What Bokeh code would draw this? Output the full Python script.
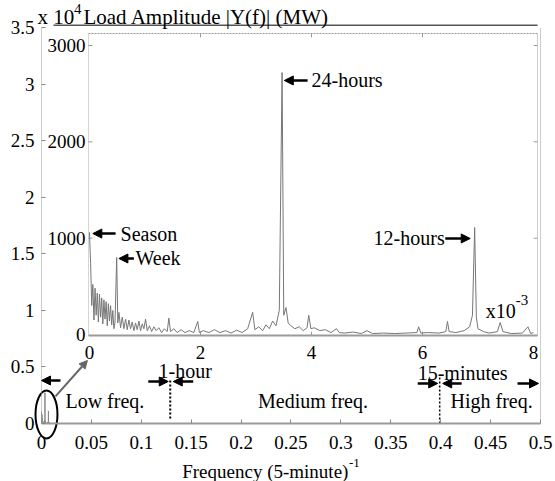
from bokeh.plotting import figure
from bokeh.models import Range1d, Label, Arrow, NormalHead, FixedTicker
from bokeh.embed import file_html
from bokeh.resources import INLINE
from bokeh.core.properties import value

# ---------------- data ----------------
# inset spectrum: frequency in 10^-3 (5-minute)^-1, amplitude in MW
inset_freq = [0.00, 0.02, 0.04, 0.06, 0.08, 0.10, 0.12, 0.14, 0.16, 0.18, 0.20, 0.22, 0.24, 0.26,
              0.28, 0.30, 0.32, 0.34, 0.36, 0.38, 0.40, 0.42, 0.44, 0.46, 0.49, 0.51, 0.53, 0.56,
              0.59, 0.62, 0.65, 0.68, 0.71, 0.74, 0.77, 0.80, 0.83, 0.86, 0.89, 0.92, 0.95, 0.98,
              1.01, 1.04, 1.08, 1.12, 1.16, 1.20, 1.25, 1.30, 1.35, 1.40, 1.43, 1.46, 1.52, 1.58,
              1.65, 1.72, 1.80, 1.88, 1.95, 1.98, 2.05, 2.15, 2.25, 2.35, 2.45, 2.55, 2.65, 2.75,
              2.85, 2.94, 2.98, 3.05, 3.12, 3.18, 3.24, 3.30, 3.36, 3.42, 3.47, 3.50, 3.54, 3.58,
              3.63, 3.70, 3.78, 3.85, 3.92, 3.95, 3.99, 4.05, 4.15, 4.25, 4.35, 4.45, 4.50, 4.60,
              4.75, 4.90, 5.00, 5.10, 5.30, 5.50, 5.70, 5.90, 5.93, 5.97, 6.10, 6.30, 6.42, 6.45,
              6.48, 6.60, 6.75, 6.85, 6.90, 6.94, 6.97, 7.00, 7.10, 7.20, 7.35, 7.40, 7.45, 7.60,
              7.80, 7.90, 7.95, 8.00]
inset_amp = [1060, 740, 300, 520, 150, 480, 200, 430, 130, 420, 180, 380, 110, 360,
             160, 340, 90, 320, 140, 300, 100, 250, 60, 130, 800, 120, 230, 70,
             180, 60, 160, 50, 150, 60, 130, 40, 120, 50, 140, 40, 110, 60,
             160, 40, 90, 30, 80, 40, 70, 20, 60, 30, 170, 30, 60, 20,
             50, 20, 40, 20, 135, 20, 40, 20, 50, 20, 40, 15, 45, 20,
             60, 230, 50, 80, 40, 100, 60, 140, 90, 250, 2720, 200, 280, 120,
             90, 60, 80, 40, 70, 200, 60, 70, 40, 50, 20, 60, 20, 15,
             25, 10, 40, 10, 15, 10, 15, 20, 80, 15, 20, 15, 30, 135,
             30, 20, 40, 80, 200, 1110, 180, 60, 30, 15, 30, 125, 30, 10,
             15, 80, 10, 20]

outer_xticks = [0.0, 0.05, 0.1, 0.15, 0.2, 0.25, 0.3, 0.35, 0.4, 0.45, 0.5]
outer_xlabels = ["0", "0.05", "0.1", "0.15", "0.2", "0.25", "0.3", "0.35", "0.4", "0.45", "0.5"]
outer_yticks = [0.0, 0.5, 1.0, 1.5, 2.0, 2.5, 3.0, 3.5]
outer_ylabels = ["0", "0.5", "1", "1.5", "2", "2.5", "3", "3.5"]
inset_xticks = [0, 2, 4, 6, 8]
inset_xlabels = ["0", "2", "4", "6", "8"]
inset_yticks = [0, 1000, 2000, 3000]
inset_ylabels = ["0", "1000", "2000", "3000"]

FONT = "Liberation Serif, Times New Roman, serif"

# frame covers the whole canvas; outer axes sit at fixed data locations
p = figure(width=555, height=481, output_backend="svg", toolbar_location=None,
           x_range=Range1d(-0.04108, 0.51503), y_range=Range1d(-0.51264, 3.73873),
           min_border=0)
p.title.visible = False
p.grid.visible = False
p.background_fill_color = "white"
p.border_fill_color = "white"
p.outline_line_color = None

p.extra_x_ranges = {"ix": Range1d(-1.6036, 8.3964)}
p.extra_y_ranges = {"iy": Range1d(-1526.0, 3467.3)}

# outer axes
p.xaxis.ticker = FixedTicker(ticks=outer_xticks)
p.xaxis.major_label_overrides = {t: s for t, s in zip(outer_xticks, outer_xlabels)}
p.yaxis.ticker = FixedTicker(ticks=outer_yticks)
p.yaxis.major_label_overrides = {t: s for t, s in zip(outer_yticks, outer_ylabels)}
p.xaxis.fixed_location = 0
p.yaxis.fixed_location = 0
p.xaxis.bounds = (0, 0.5)
p.yaxis.bounds = (0, 3.5)
for ax in (p.xaxis[0], p.yaxis[0]):
    ax.major_label_text_font = FONT
    ax.major_label_text_font_size = "19px"
    ax.major_label_text_color = "black"
    ax.major_tick_out = 0
    ax.major_tick_in = 4
    ax.major_tick_line_color = "#888888"
    ax.minor_tick_line_color = None
p.xaxis.axis_line_color = "#9a9a9a"
p.xaxis.axis_line_width = 2
p.xaxis.major_label_standoff = 13
p.yaxis.axis_line_color = "#999999"
p.yaxis.axis_line_dash = "1 1"
p.yaxis.major_label_standoff = 7

# top and right border of the outer axes
p.line([0.012, 0.497], [3.52, 3.52], line_color="#555555", line_width=1.5)
p.line([0.5, 0.5], [0.0, 3.5], line_color="#999999", line_dash="1 1", line_width=1)

# outer spectrum (same data, in (5-minute)^-1 and 10^4 MW)
p.line([f * 1e-3 for f in inset_freq], [a / 1e4 for a in inset_amp],
       line_color="#888888", line_width=1)

# ---------------- inset ----------------
IX0, IX1, IY0, IY1 = -0.018, 8.072, -10, 3125
p.line([IX0, IX0], [IY0, IY1], x_range_name="ix", y_range_name="iy",
       line_color="#aaaaaa", line_dash="1 1", line_width=1)
p.line([IX1, IX1], [IY0, IY1], x_range_name="ix", y_range_name="iy",
       line_color="#999999", line_dash="1 1", line_width=1)
p.line([IX0, IX1], [IY1, IY1], x_range_name="ix", y_range_name="iy",
       line_color="#999999", line_dash="2 1", line_width=1)
p.line([IX0, IX1], [IY0, IY0], x_range_name="ix", y_range_name="iy",
       line_color="#9a9a9a", line_width=2)
# inset tick marks
p.segment(x0=inset_xticks[1:4], y0=IY0, x1=inset_xticks[1:4], y1=IY0 + 40,
          x_range_name="ix", y_range_name="iy", line_color="#999999")
p.segment(x0=inset_xticks[1:4], y0=IY1, x1=inset_xticks[1:4], y1=IY1 - 40,
          x_range_name="ix", y_range_name="iy", line_color="#999999")
p.segment(x0=IX0, y0=inset_yticks[1:], x1=IX0 + 0.07, y1=inset_yticks[1:],
          x_range_name="ix", y_range_name="iy", line_color="#999999")
p.segment(x0=IX1, y0=inset_yticks[1:], x1=IX1 - 0.07, y1=inset_yticks[1:],
          x_range_name="ix", y_range_name="iy", line_color="#999999")

p.line(inset_freq, inset_amp, x_range_name="ix", y_range_name="iy",
       line_color="#777777", line_width=1)

p.text(x=inset_xticks, y=-187, text=inset_xlabels, x_range_name="ix", y_range_name="iy",
       text_font=value(FONT), text_font_size=value("19px"), text_align="center",
       text_baseline="middle", text_color="black")
p.text(x=-0.07, y=inset_yticks, text=inset_ylabels, x_range_name="ix", y_range_name="iy",
       text_font=value(FONT), text_font_size=value("19px"), text_align="right",
       text_baseline="middle", text_color="black")


def lab(x, y, t, size="20px", align="left", baseline="middle", rng=None):
    kw = {}
    if rng == "inset":
        kw = dict(x_range_name="ix", y_range_name="iy")
    p.add_layout(Label(x=x, y=y, text=t, text_font=FONT, text_font_size=size,
                       text_align=align, text_baseline=baseline, text_color="black", **kw))


def arr(x0, y0, x1, y1, rng=None, color="black", width=2.5, size=9):
    kw = {}
    if rng == "inset":
        kw = dict(x_range_name="ix", y_range_name="iy")
    p.add_layout(Arrow(end=NormalHead(size=size, fill_color=color, line_color=color),
                       x_start=x0, y_start=y0, x_end=x1, y_end=y1,
                       line_color=color, line_width=width, **kw))


# inset annotations
arr(0.47, 1048, 0.06, 1048, rng="inset")
lab(0.56, 1048, "Season", rng="inset")
arr(0.80, 789, 0.53, 789, rng="inset")
lab(0.83, 789, "Week", rng="inset")
arr(3.93, 2637, 3.51, 2637, rng="inset")
lab(4.0, 2637, "24-hours", rng="inset")
lab(6.40, 997, "12-hours", align="right", rng="inset")
arr(6.41, 997, 6.86, 997, rng="inset")
lab(7.68, 249, "x10", align="right", baseline="alphabetic", rng="inset")
lab(7.68, 360, "-3", size="15px", baseline="alphabetic", rng="inset")

# title (left-aligned pieces)
lab(-0.004, 3.59, "x 10", size="21px", baseline="alphabetic")
lab(0.0325, 3.66, "4", size="15px", baseline="alphabetic")
lab(0.042, 3.59, "Load Amplitude |Y(f)| (MW)", size="21px", baseline="alphabetic")

# x axis label
lab(0.141, -0.425, "Frequency (5-minute)", size="19px", baseline="alphabetic")
lab(0.308, -0.345, "-1", size="13px", baseline="alphabetic")

# outer annotations
p.ellipse(x=0.005, y=0.08, width=0.022, height=0.424, fill_color=None,
          line_color="black", line_width=2)
arr(0.014, 0.239, 0.046, 0.557, color="#666666", width=2, size=8)
arr(0.019, 0.38, 0.0, 0.38)
lab(0.024, 0.203, "Low freq.")
lab(0.144, 0.468, "1-hour", align="center")
arr(0.107, 0.371, 0.127, 0.371)
arr(0.152, 0.371, 0.132, 0.371)
p.line([0.129, 0.129], [0.044, 0.398], line_color="black", line_dash="2 2", line_width=2)
lab(0.272, 0.203, "Medium freq.", align="center")
lab(0.422, 0.45, "15-minutes", align="center")
arr(0.377, 0.354, 0.397, 0.354)
arr(0.421, 0.354, 0.402, 0.354)
p.line([0.399, 0.399], [0.0, 0.424], line_color="black", line_dash="2 2", line_width=1.5)
lab(0.451, 0.203, "High freq.", align="center")
arr(0.477, 0.354, 0.498, 0.354)

open("out.html", "w").write(file_html(p, INLINE))
